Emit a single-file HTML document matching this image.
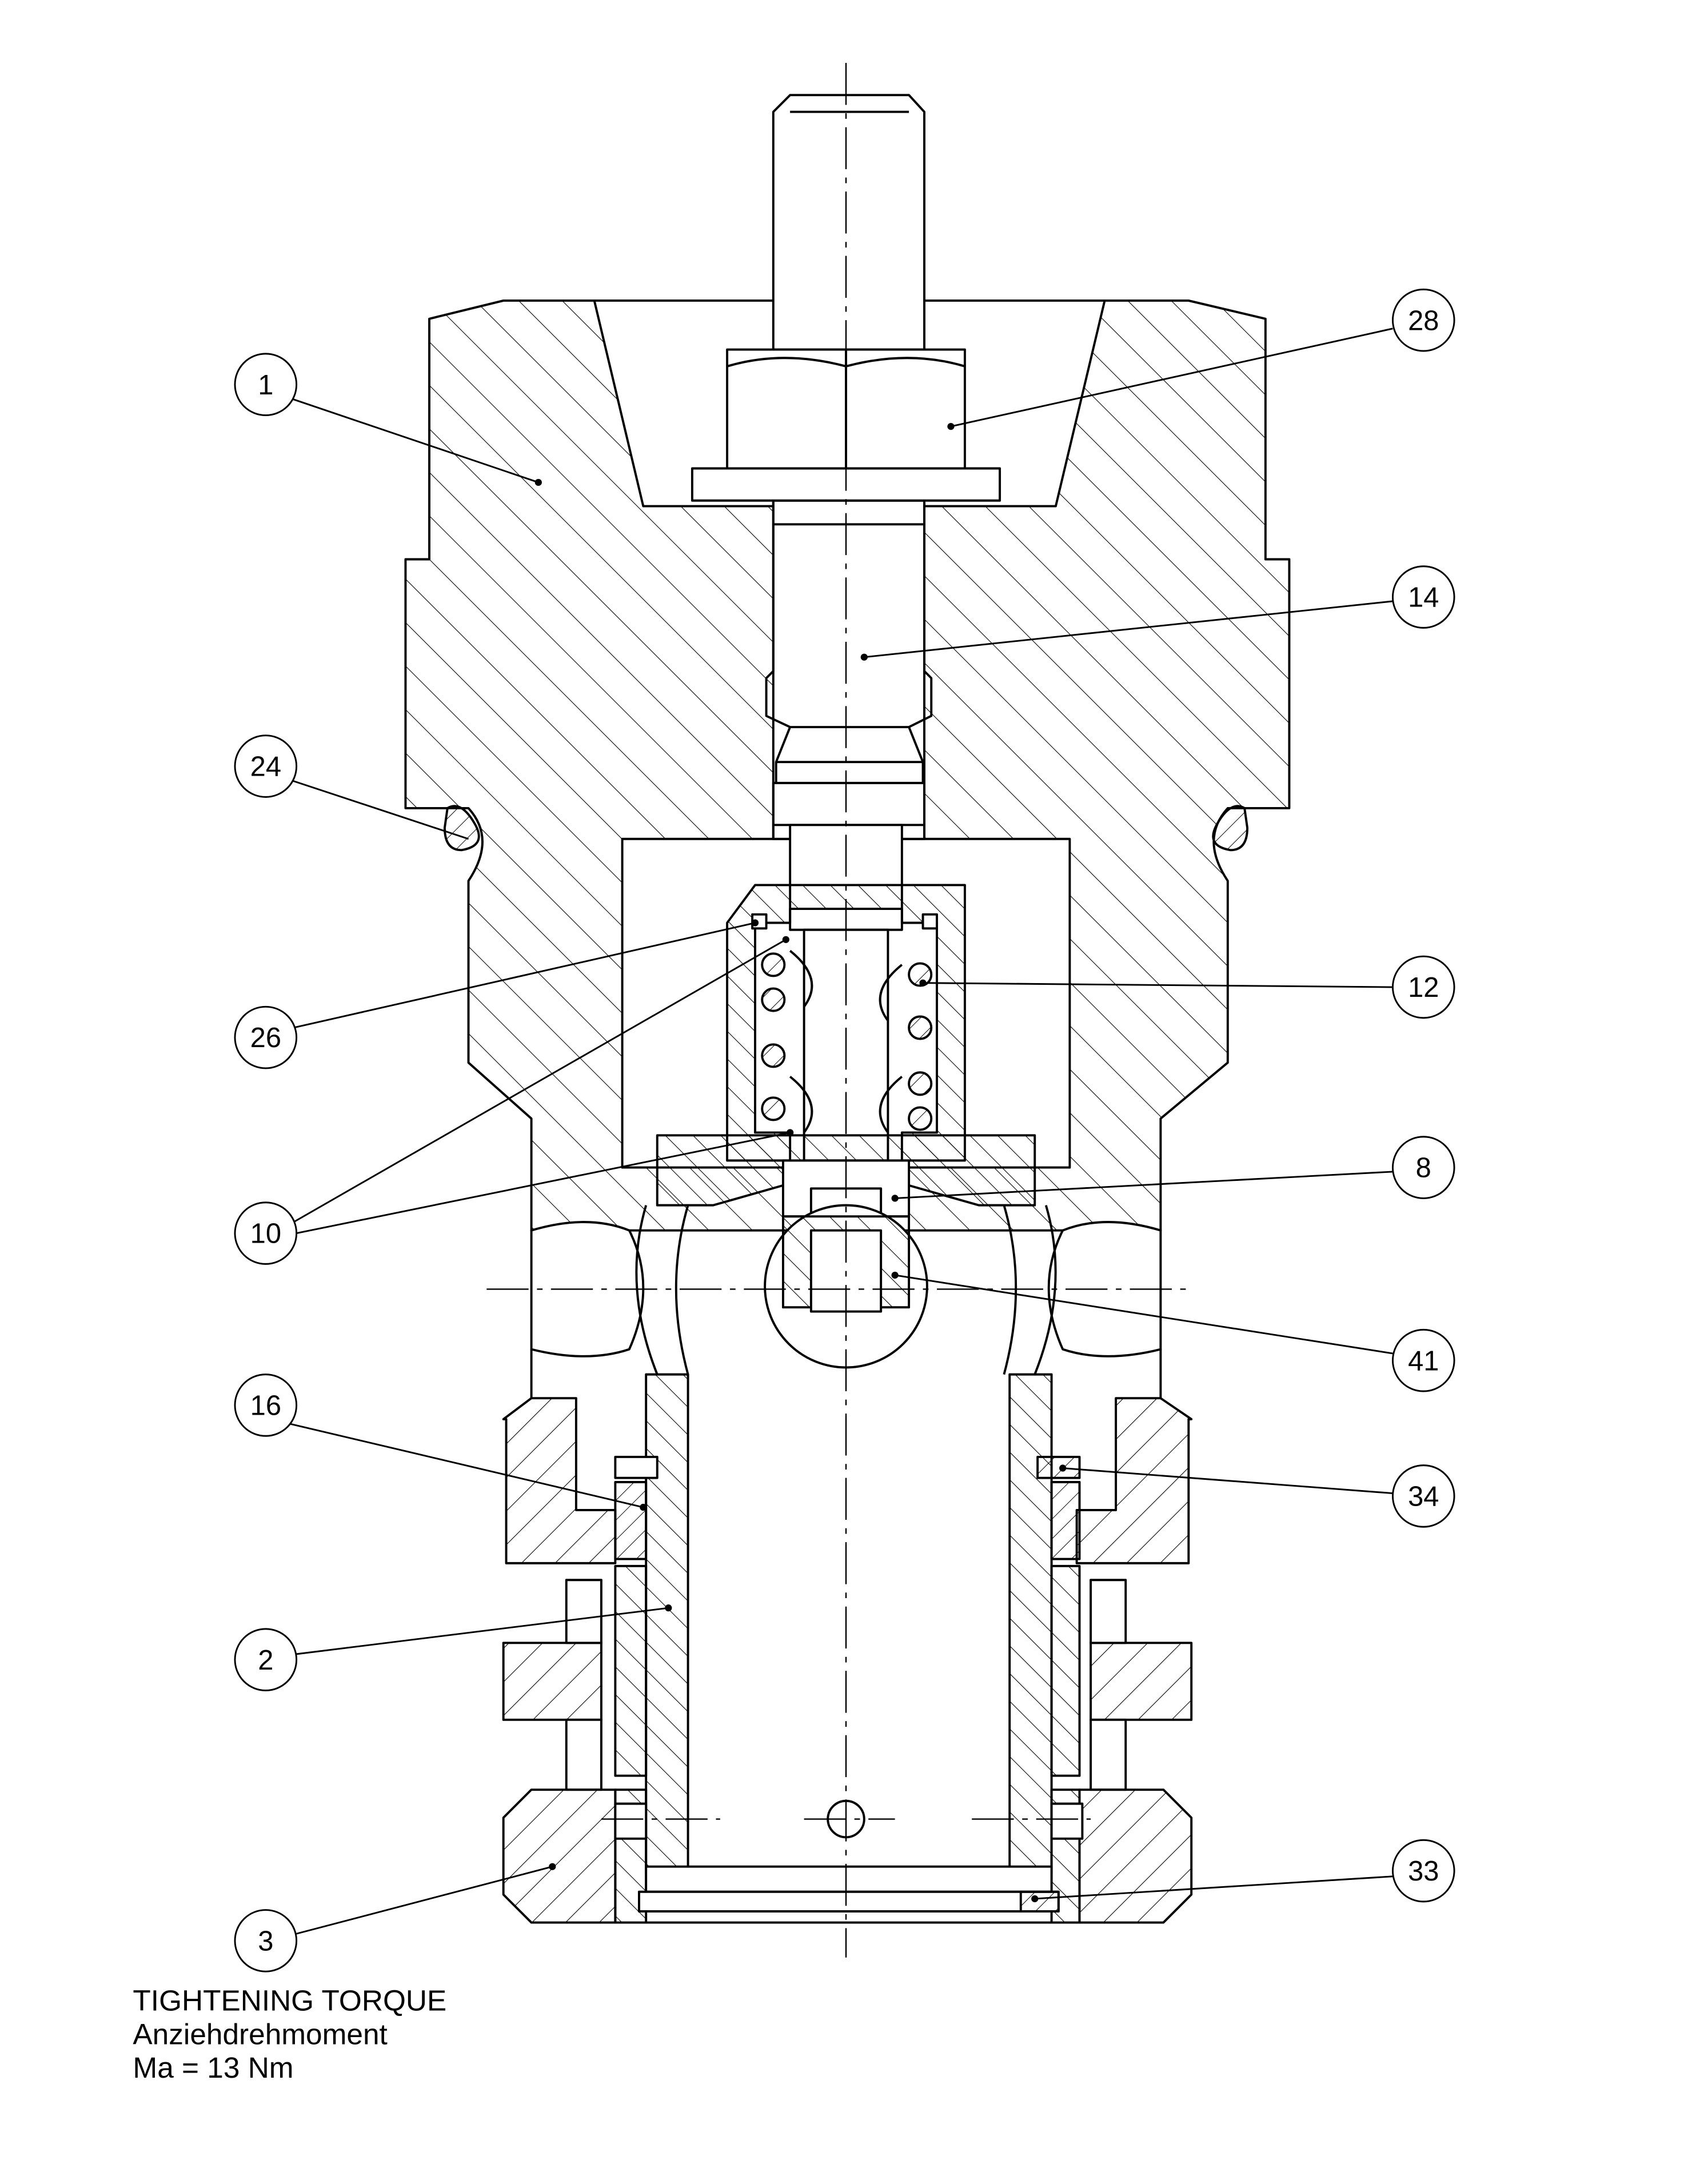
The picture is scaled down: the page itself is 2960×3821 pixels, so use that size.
<!DOCTYPE html>
<html><head><meta charset="utf-8"><style>
html,body{margin:0;padding:0;background:#fff}
svg{display:block}
text{font-family:"Liberation Sans",sans-serif;fill:#000}
</style></head><body>
<svg width="2960" height="3821" viewBox="0 0 1210 1562" xmlns="http://www.w3.org/2000/svg">
<defs>
<pattern id="h" patternUnits="userSpaceOnUse" width="22" height="22" patternTransform="rotate(-45)">
<line x1="0" y1="0" x2="0" y2="22" stroke="#000" stroke-width="0.9"/></pattern>
<pattern id="hn" patternUnits="userSpaceOnUse" width="17" height="17" patternTransform="rotate(45)">
<line x1="0" y1="0" x2="0" y2="17" stroke="#000" stroke-width="0.9"/></pattern>
<pattern id="h2" patternUnits="userSpaceOnUse" width="14" height="14" patternTransform="rotate(-45)">
<line x1="0" y1="0" x2="0" y2="14" stroke="#000" stroke-width="0.9"/></pattern>
<pattern id="h3" patternUnits="userSpaceOnUse" width="10" height="10" patternTransform="rotate(45)">
<line x1="0" y1="0" x2="0" y2="10" stroke="#000" stroke-width="0.8"/></pattern>
</defs>
<g fill="none" stroke="#000" stroke-width="1.6" stroke-linejoin="round">
<path fill="url(#h)" d="M307,228 L360,215 L850,215 L905,228 L905,400 L922,400 L922,578 L878,578 Q858,600 878,630 L878,760 L830,800 L830,880 L380,880 L380,800 L335,760 L335,630 Q355,600 335,578 L290,578 L290,400 L307,400 Z"/>
<path fill="#fff" d="M425,215 L460,362 L755,362 L790,215 Z"/>
<path fill="#fff" d="M445,600 L765,600 L765,835 L445,835 Z"/>
<rect x="553" y="358" width="108" height="242" fill="#fff"/>
<path fill="url(#h3)" d="M320,578 Q330,572 340,590 Q348,605 330,608 Q318,608 318,592 Z"/>
<path fill="url(#h3)" d="M890,578 Q880,572 870,590 Q862,605 880,608 Q892,608 892,592 Z"/>
<path fill="#fff" d="M553,80 L565,68 L650,68 L661,80 L661,250 L553,250 Z"/>
<line x1="565" y1="80" x2="650" y2="80"/>
<rect x="520" y="250" width="170" height="85" fill="#fff"/>
<line x1="605" y1="250" x2="605" y2="335"/>
<path d="M520,262 Q560,250 605,262 Q650,250 690,262"/>
<rect x="495" y="335" width="220" height="23" fill="#fff"/>
<path d="M553,358 L553,480 L548,485 L548,512 L565,520 L555,545 L555,560 L553,560 L553,600 M661,358 L661,480 L666,485 L666,512 L650,520 L660,545 L660,560 L661,560 L661,600"/>
<line x1="553" y1="375" x2="661" y2="375"/>
<line x1="565" y1="520" x2="650" y2="520"/>
<line x1="555" y1="545" x2="660" y2="545"/>
<line x1="553" y1="560" x2="661" y2="560"/>
<line x1="553" y1="590" x2="661" y2="590"/>
<rect x="565" y="590" width="80" height="75" fill="#fff"/>
<rect x="575" y="665" width="60" height="165" fill="#fff"/>
<path fill="url(#h2)" d="M520,660 L540,633 L690,633 L690,830 L645,830 L645,810 L670,810 L670,660 L645,660 L645,650 L565,650 L565,660 L540,660 L540,810 L565,810 L565,830 L520,830 Z"/>
<rect x="538" y="654" width="10" height="10" fill="#fff"/>
<rect x="660" y="654" width="10" height="10" fill="#fff"/>
<g fill="url(#h3)">
<circle cx="553" cy="690" r="8"/><circle cx="553" cy="715" r="8"/><circle cx="553" cy="755" r="8"/><circle cx="553" cy="793" r="8"/>
<circle cx="658" cy="697" r="8"/><circle cx="658" cy="735" r="8"/><circle cx="658" cy="775" r="8"/><circle cx="658" cy="800" r="8"/>
</g>
<path d="M565,680 Q590,700 575,720 M565,770 Q590,790 575,810 M645,690 Q620,710 635,730 M645,770 Q620,790 635,810"/>
<path fill="url(#h2)" d="M470,812 L740,812 L740,862 L700,862 L605,835 L510,862 L470,862 Z"/>
<rect x="560" y="830" width="90" height="40" fill="#fff"/>
<rect x="580" y="850" width="50" height="20" fill="#fff"/>
<circle cx="605" cy="920" r="58" fill="#fff"/>
<path fill="url(#h2)" d="M560,870 L650,870 L650,935 L560,935 Z"/>
<rect x="580" y="880" width="50" height="58" fill="#fff"/>
<path fill="#fff" d="M380,880 Q420,868 450,880 Q470,920 450,965 Q420,975 380,965 Z"/>
<path fill="#fff" d="M830,880 Q790,868 760,880 Q740,920 760,965 Q790,975 830,965 Z"/>
<path d="M462,862 Q445,920 470,983 M492,862 Q475,920 492,983 M748,862 Q765,920 740,983 M718,862 Q735,920 718,983"/>
<line x1="380" y1="965" x2="380" y2="1000"/><line x1="830" y1="965" x2="830" y2="1000"/>
<path fill="url(#h2)" d="M462,983 L492,983 L492,1340 L462,1340 Z"/>
<path fill="url(#h2)" d="M722,983 L752,983 L752,1340 L722,1340 Z"/>
<path fill="url(#hn)" d="M360,1015 L380,1000 L412,1000 L412,1080 L440,1080 L440,1118 L362,1118 L362,1015 Z"/>
<path fill="url(#h2)" d="M440,1120 L462,1120 L462,1270 L440,1270 Z"/>
<path fill="url(#hn)" d="M360,1175 L430,1175 L430,1230 L360,1230 Z"/>
<rect x="405" y="1130" width="25" height="45" fill="#fff"/>
<rect x="405" y="1230" width="25" height="50" fill="#fff"/>
<path fill="url(#hn)" d="M360,1300 L380,1280 L440,1280 L440,1375 L380,1375 L360,1355 Z"/>
<path fill="url(#h2)" d="M440,1280 L462,1280 L462,1375 L440,1375 Z"/>
<path fill="url(#hn)" d="M852,1015 L830,1000 L798,1000 L798,1080 L770,1080 L770,1118 L850,1118 L850,1015 Z"/>
<path fill="url(#h2)" d="M752,1120 L772,1120 L772,1270 L752,1270 Z"/>
<path fill="url(#hn)" d="M780,1175 L852,1175 L852,1230 L780,1230 Z"/>
<rect x="780" y="1130" width="25" height="45" fill="#fff"/>
<rect x="780" y="1230" width="25" height="50" fill="#fff"/>
<path fill="url(#hn)" d="M852,1300 L832,1280 L772,1280 L772,1375 L832,1375 L852,1355 Z"/>
<path fill="url(#h2)" d="M752,1280 L772,1280 L772,1375 L752,1375 Z"/>
<rect x="440" y="1042" width="30" height="15" fill="#fff"/>
<rect x="742" y="1042" width="30" height="15" fill="url(#h3)"/>
<path fill="url(#h3)" d="M440,1060 L462,1060 L462,1115 L440,1115 Z"/>
<path fill="url(#h3)" d="M752,1060 L772,1060 L772,1115 L752,1115 Z"/>
<rect x="440" y="1290" width="22" height="25" fill="#fff"/>
<rect x="752" y="1290" width="22" height="25" fill="#fff"/>
<rect x="462" y="1335" width="290" height="18" fill="#fff"/>
<rect x="457" y="1353" width="300" height="14" fill="#fff"/>
<rect x="730" y="1353" width="27" height="14" fill="url(#h3)"/>
<line x1="462" y1="1375" x2="752" y2="1375"/>
<circle cx="605" cy="1301" r="13" fill="#fff"/>
</g>
<g stroke="#000" stroke-width="1" stroke-dasharray="30,6,4,6" fill="none">
<line x1="605" y1="45" x2="605" y2="1400"/>
<line x1="348" y1="922" x2="852" y2="922"/>
<line x1="430" y1="1301" x2="515" y2="1301"/>
<line x1="575" y1="1301" x2="640" y2="1301"/>
<line x1="695" y1="1301" x2="780" y2="1301"/>
</g>
<g fill="none" stroke="#000" stroke-width="1.2">
<line x1="208" y1="285" x2="385" y2="345"/>
<line x1="996" y1="235" x2="680" y2="305"/>
<line x1="996" y1="430" x2="618" y2="470"/>
<line x1="208" y1="558" x2="335" y2="600"/>
<line x1="210" y1="735" x2="540" y2="660"/>
<line x1="996" y1="706" x2="660" y2="703"/>
<line x1="996" y1="838" x2="640" y2="857"/>
<line x1="210" y1="874" x2="562" y2="672"/>
<line x1="212" y1="882" x2="565" y2="810"/>
<line x1="996" y1="968" x2="640" y2="912"/>
<line x1="206" y1="1018" x2="460" y2="1078"/>
<line x1="996" y1="1068" x2="760" y2="1050"/>
<line x1="212" y1="1183" x2="478" y2="1150"/>
<line x1="996" y1="1342" x2="740" y2="1358"/>
<line x1="212" y1="1383" x2="395" y2="1335"/>
</g>
<g fill="#000">
<circle cx="385" cy="345" r="2.5"/><circle cx="680" cy="305" r="2.5"/><circle cx="618" cy="470" r="2.5"/>
<circle cx="540" cy="660" r="2.5"/><circle cx="660" cy="703" r="2.5"/><circle cx="640" cy="857" r="2.5"/>
<circle cx="562" cy="672" r="2.5"/><circle cx="565" cy="810" r="2.5"/><circle cx="640" cy="912" r="2.5"/>
<circle cx="460" cy="1078" r="2.5"/><circle cx="760" cy="1050" r="2.5"/><circle cx="478" cy="1150" r="2.5"/>
<circle cx="740" cy="1358" r="2.5"/><circle cx="395" cy="1335" r="2.5"/>
</g>
<g fill="#fff" stroke="#000" stroke-width="1.2">
<circle cx="190" cy="275" r="22"/><circle cx="1018" cy="229" r="22"/><circle cx="1018" cy="427" r="22"/>
<circle cx="190" cy="548" r="22"/><circle cx="190" cy="742" r="22"/><circle cx="1018" cy="706" r="22"/>
<circle cx="1018" cy="835" r="22"/><circle cx="190" cy="882" r="22"/><circle cx="1018" cy="973" r="22"/>
<circle cx="190" cy="1005" r="22"/><circle cx="1018" cy="1070" r="22"/><circle cx="190" cy="1187" r="22"/>
<circle cx="1018" cy="1338" r="22"/><circle cx="190" cy="1388" r="22"/>
</g>
<g font-size="20" text-anchor="middle">
<text x="190" y="282">1</text><text x="1018" y="236">28</text><text x="1018" y="434">14</text>
<text x="190" y="555">24</text><text x="190" y="749">26</text><text x="1018" y="713">12</text>
<text x="1018" y="842">8</text><text x="190" y="889">10</text><text x="1018" y="980">41</text>
<text x="190" y="1012">16</text><text x="1018" y="1077">34</text><text x="190" y="1194">2</text>
<text x="1018" y="1345">33</text><text x="190" y="1395">3</text>
</g>
<g font-size="21">
<text x="95" y="1438">TIGHTENING TORQUE</text>
<text x="95" y="1462">Anziehdrehmoment</text>
<text x="95" y="1486">Ma = 13 Nm</text>
</g>
</svg>
</body></html>
